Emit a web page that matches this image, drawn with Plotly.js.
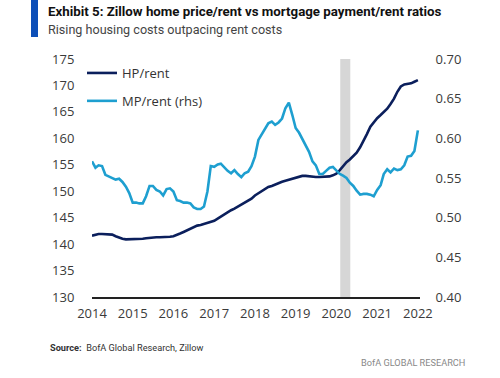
<!DOCTYPE html>
<html>
<head>
<meta charset="utf-8">
<script src="https://cdn.plot.ly/plotly-3.0.1.min.js"></script>
<style>
html,body{margin:0;padding:0;background:#fff;}
#chart{width:500px;height:378px;}
</style>
</head>
<body>
<div id="chart"></div>
<script>
// ---- data (monthly, Jan 2014 - Jan 2022) ----
const years = [2014, 2015, 2016, 2017, 2018, 2019, 2020, 2021, 2022];
const hpRent = [
  141.6, 141.8, 141.9, 141.9, 141.9, 141.9, 141.8, 141.5, 141.2, 141.0, 140.9, 140.9,
  140.9, 140.9, 140.9, 141.0, 141.1, 141.2, 141.3, 141.3, 141.3, 141.3, 141.3, 141.4,
  141.5, 141.7, 142.0, 142.3, 142.6, 142.9, 143.2, 143.5, 143.6, 143.8, 144.0, 144.3,
  144.4, 144.8, 145.2, 145.6, 146.0, 146.4, 146.7, 147.1, 147.5, 147.9, 148.3, 148.6,
  149.2, 149.6, 150.0, 150.4, 150.8, 151.0, 151.3, 151.5, 151.8, 152.0, 152.2, 152.4,
  152.5, 152.7, 152.9, 152.9, 152.8, 152.7, 152.7, 152.7, 152.7, 152.7, 152.8, 153.0,
  153.3, 154.0, 154.8, 155.5, 156.0, 156.6, 157.3, 158.3, 159.5, 160.8, 162.2, 163.0,
  163.8, 164.4, 165.0, 165.6, 166.5, 167.5, 168.8, 169.8, 170.2, 170.3, 170.4, 170.7,
  171.0
];
const mpRent = [
  0.571, 0.563, 0.566, 0.565, 0.554, 0.552, 0.551, 0.548, 0.549, 0.545, 0.539, 0.531,
  0.519, 0.519, 0.518, 0.518, 0.527, 0.540, 0.540, 0.535, 0.533, 0.528, 0.536, 0.537,
  0.533, 0.522, 0.521, 0.519, 0.519, 0.518, 0.513, 0.511, 0.511, 0.514, 0.533, 0.565,
  0.564, 0.567, 0.568, 0.563, 0.559, 0.556, 0.560, 0.555, 0.551, 0.556, 0.558, 0.565,
  0.577, 0.598, 0.605, 0.613, 0.619, 0.621, 0.617, 0.620, 0.625, 0.638, 0.645, 0.630,
  0.613, 0.607, 0.600, 0.592, 0.583, 0.571, 0.566, 0.555, 0.555, 0.559, 0.563, 0.564,
  0.560, 0.555, 0.553, 0.550, 0.544, 0.540, 0.534, 0.529, 0.530, 0.530, 0.529, 0.527,
  0.535, 0.541, 0.555, 0.561, 0.557, 0.562, 0.560, 0.561, 0.566, 0.577, 0.578, 0.584,
  0.610
];
const recession = ['2020-02-05', '2020-05-05'];
const seriesNames = ['HP/rent', 'MP/rent (rhs)'];

// monthly date labels built from the start year
const dates = hpRent.map((_, i) => {
  const y = years[0] + Math.floor(i / 12);
  const m = (i % 12) + 1;
  return y + '-' + String(m).padStart(2, '0') + '-01';
});

// ---- layout helpers (pixel -> paper) ----
const W = 500, H = 378, L = 92, R = 80, T = 59, B = 81;
const pw = W - L - R, ph = H - T - B;
const px = x => (x - L) / pw;
const py = y => (H - B - y) / ph;

const tickFont = {family: 'Open Sans, sans-serif', size: 13, color: '#3a3a3a'};
const textFamily = 'Roboto, sans-serif';

const traces = [
  {x: dates, y: hpRent, name: seriesNames[0], type: 'scatter', mode: 'lines',
   line: {color: '#0b1f5c', width: 2.6}, yaxis: 'y', legendgroup: 'a'},
  {x: dates, y: mpRent, name: seriesNames[1], type: 'scatter', mode: 'lines',
   line: {color: '#1e9fd0', width: 2.6}, yaxis: 'y2', legendgroup: 'b'}
];

const layout = {
  width: W, height: H,
  margin: {l: L, r: R, t: T, b: B, pad: 0},
  paper_bgcolor: '#fff', plot_bgcolor: '#fff',
  showlegend: true,
  legend: {x: px(82), y: py(58), xanchor: 'left', yanchor: 'top',
           font: {family: 'Open Sans, sans-serif', size: 13, color: '#333'},
           bgcolor: 'rgba(0,0,0,0)', tracegroupgap: 8, traceorder: 'grouped',
           itemwidth: 30},
  xaxis: {type: 'date', range: ['2014-01-01', '2022-01-20'],
          tick0: '2014-01-01', dtick: 'M12', tickformat: '%Y',
          showgrid: false, zeroline: false, showline: true,
          linecolor: '#222', linewidth: 1.5,
          ticks: 'outside', ticklen: 4, tickcolor: 'rgba(0,0,0,0)',
          tickfont: tickFont},
  yaxis: {range: [130, 175], dtick: 5, showgrid: false, zeroline: false,
          showline: false, ticks: 'outside', ticklen: 14, tickcolor: 'rgba(0,0,0,0)',
          tickfont: tickFont},
  yaxis2: {range: [0.40, 0.70], dtick: 0.05, tickformat: '.2f', overlaying: 'y',
           side: 'right', showgrid: false, zeroline: false, showline: false,
           ticks: 'outside', ticklen: 12, tickcolor: 'rgba(0,0,0,0)',
           tickfont: tickFont},
  shapes: [
    {type: 'rect', xref: 'x', yref: 'paper', x0: recession[0], x1: recession[1],
     y0: 0, y1: 1, fillcolor: '#d6d6d6', line: {width: 0}, layer: 'below'},
    {type: 'rect', xref: 'paper', yref: 'paper', x0: px(31), x1: px(38),
     y0: py(37), y1: py(0), fillcolor: '#0d4fb8', line: {width: 0}}
  ],
  annotations: [
    {xref: 'paper', yref: 'paper', x: px(46), y: py(11.5), xanchor: 'left', yanchor: 'middle',
     showarrow: false, text: '<b>Exhibit 5: Zillow home price/rent vs mortgage payment/rent ratios</b>',
     font: {family: textFamily, size: 13.3, color: '#111'}},
    {xref: 'paper', yref: 'paper', x: px(46), y: py(29.5), xanchor: 'left', yanchor: 'middle',
     showarrow: false, text: 'Rising housing costs outpacing rent costs',
     font: {family: textFamily, size: 12.6, color: '#444'}},
    {xref: 'paper', yref: 'paper', x: px(48), y: py(347), xanchor: 'left', yanchor: 'middle',
     showarrow: false, text: '<b>Source:</b>  BofA Global Research, Zillow',
     font: {family: textFamily, size: 9.2, color: '#333'}},
    {xref: 'paper', yref: 'paper', x: px(467), y: py(362), xanchor: 'right', yanchor: 'middle',
     showarrow: false, text: 'BofA GLOBAL RESEARCH',
     font: {family: textFamily, size: 9.2, color: '#888'}}
  ]
};

Plotly.newPlot('chart', traces, layout, {displayModeBar: false, staticPlot: true});
</script>
</body>
</html>
